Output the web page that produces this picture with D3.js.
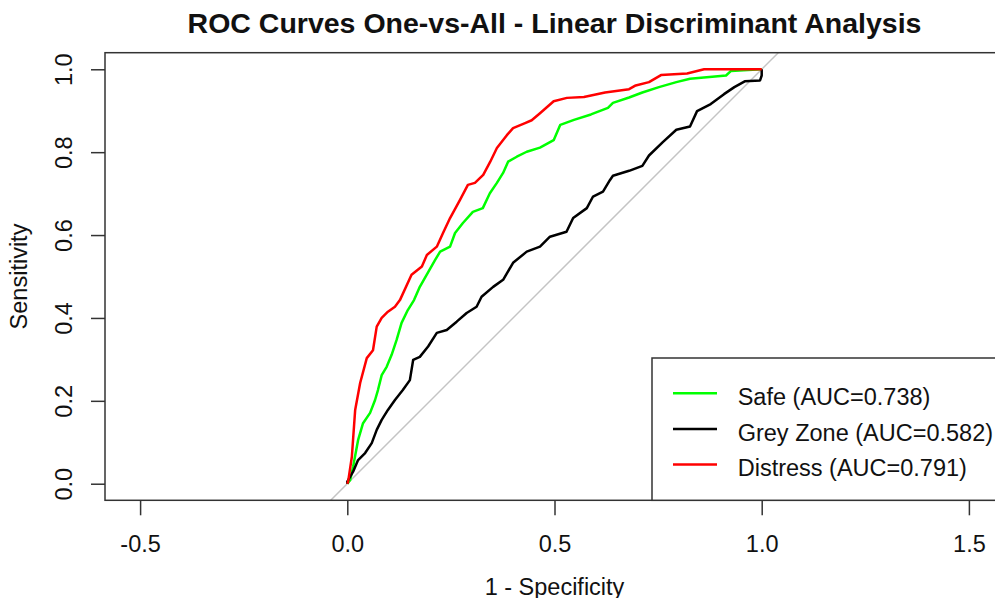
<!DOCTYPE html>
<html>
<head>
<meta charset="utf-8">
<script src="https://cdn.jsdelivr.net/npm/d3@7"></script>
<style>
  html, body { margin: 0; padding: 0; background: #fff; }
  svg { display: block; font-family: "Liberation Sans", Arial, sans-serif; }
</style>
</head>
<body>
<svg id="chart" width="995" height="598"></svg>
<script>
// ROC curves (one class against the rest) for the LDA classifier
const classNames = ["Safe", "Grey Zone", "Distress"];
const aucValues = [0.738, 0.582, 0.791];
const classColors = ["#00ff00", "#000000", "#ff0000"];

const safeFpr = [0, 0.007, 0.014, 0.026, 0.038, 0.055, 0.067, 0.074, 0.083, 0.095, 0.107, 0.119, 0.131, 0.146, 0.161, 0.175, 0.212, 0.224, 0.248, 0.260, 0.279, 0.303, 0.327, 0.344, 0.361, 0.376, 0.388, 0.409, 0.433, 0.465, 0.498, 0.514, 0.547, 0.588, 0.629, 0.641, 0.680, 0.712, 0.752, 0.794, 0.827, 0.914, 0.926, 0.967, 1];
const safeTpr = [0, 0.009, 0.041, 0.105, 0.146, 0.171, 0.202, 0.226, 0.262, 0.282, 0.311, 0.347, 0.388, 0.419, 0.443, 0.475, 0.540, 0.560, 0.572, 0.605, 0.629, 0.656, 0.665, 0.701, 0.726, 0.750, 0.777, 0.789, 0.801, 0.811, 0.829, 0.866, 0.878, 0.891, 0.907, 0.919, 0.932, 0.944, 0.957, 0.969, 0.977, 0.985, 0.996, 0.998, 1];

const greyFpr = [0, 0, 0.014, 0.026, 0.043, 0.059, 0.071, 0.083, 0.098, 0.115, 0.134, 0.151, 0.159, 0.175, 0.195, 0.216, 0.240, 0.264, 0.288, 0.312, 0.324, 0.352, 0.376, 0.400, 0.433, 0.465, 0.489, 0.529, 0.545, 0.578, 0.593, 0.617, 0.634, 0.641, 0.680, 0.712, 0.728, 0.762, 0.794, 0.827, 0.844, 0.877, 0.909, 0.934, 0.959, 0.996, 1, 1];
const greyTpr = [0, 0.005, 0.029, 0.057, 0.074, 0.098, 0.130, 0.154, 0.178, 0.202, 0.226, 0.250, 0.299, 0.306, 0.331, 0.364, 0.371, 0.391, 0.412, 0.427, 0.451, 0.475, 0.492, 0.533, 0.560, 0.572, 0.596, 0.608, 0.641, 0.665, 0.693, 0.705, 0.733, 0.743, 0.755, 0.767, 0.792, 0.825, 0.854, 0.862, 0.899, 0.916, 0.940, 0.957, 0.971, 0.973, 0.985, 1];

const distressFpr = [0, 0.002, 0.011, 0.019, 0.031, 0.047, 0.062, 0.071, 0.083, 0.098, 0.115, 0.127, 0.155, 0.180, 0.192, 0.216, 0.231, 0.248, 0.272, 0.291, 0.308, 0.328, 0.345, 0.361, 0.385, 0.400, 0.429, 0.445, 0.465, 0.498, 0.530, 0.571, 0.622, 0.680, 0.696, 0.728, 0.757, 0.820, 0.861, 1];
const distressTpr = [0, 0.005, 0.065, 0.178, 0.243, 0.303, 0.322, 0.379, 0.400, 0.415, 0.427, 0.443, 0.504, 0.524, 0.552, 0.572, 0.605, 0.641, 0.685, 0.721, 0.726, 0.745, 0.777, 0.810, 0.841, 0.858, 0.870, 0.877, 0.894, 0.923, 0.931, 0.933, 0.944, 0.952, 0.961, 0.969, 0.986, 0.990, 1, 1];

const xTicks = [-0.5, 0, 0.5, 1, 1.5];
const yTicks = [0, 0.2, 0.4, 0.6, 0.8, 1];

const curves = [
  { fpr: safeFpr, tpr: safeTpr },
  { fpr: greyFpr, tpr: greyTpr },
  { fpr: distressFpr, tpr: distressTpr }
];

// plot region (equal aspect ratio, so the x range is widened)
const box = { left: 105, right: 1004, top: 52.7, bottom: 500.3 };
const x = d3.scaleLinear().domain([-0.5847, 1.5847]).range([box.left, box.right]);
const y = d3.scaleLinear().domain([-0.04, 1.04]).range([box.bottom, box.top]);

const svg = d3.select("#chart");
const fontSize = 23.5;

svg.append("defs").append("clipPath").attr("id", "plotClip")
  .append("rect")
  .attr("x", box.left).attr("y", box.top)
  .attr("width", box.right - box.left).attr("height", box.bottom - box.top);

// chance diagonal
svg.append("line")
  .attr("clip-path", "url(#plotClip)")
  .attr("x1", x(-0.04)).attr("y1", y(-0.04))
  .attr("x2", x(1.04)).attr("y2", y(1.04))
  .attr("stroke", "#c4c4c4").attr("stroke-width", 1.5);

// ROC curves
const line = d3.line().x(d => x(d[0])).y(d => y(d[1]));
curves.forEach((c, i) => {
  const pts = c.fpr.map((f, k) => [f, c.tpr[k]]);
  svg.append("path")
    .attr("clip-path", "url(#plotClip)")
    .attr("d", line(pts))
    .attr("fill", "none")
    .attr("stroke", classColors[i])
    .attr("stroke-width", 2.5)
    .attr("stroke-linejoin", "round");
});

// plot frame
svg.append("rect")
  .attr("x", box.left).attr("y", box.top)
  .attr("width", box.right - box.left).attr("height", box.bottom - box.top)
  .attr("fill", "none").attr("stroke", "#333").attr("stroke-width", 1.5);

// x axis
const xAxis = svg.append("g")
  .attr("transform", `translate(0,${box.bottom})`)
  .call(d3.axisBottom(x).tickValues(xTicks).tickFormat(d => d.toFixed(1))
    .tickSize(15).tickPadding(20));
xAxis.select(".domain").remove();
xAxis.selectAll("line").attr("stroke", "#333").attr("stroke-width", 1.5);
xAxis.selectAll("text").attr("font-size", fontSize).attr("fill", "#111")
  .attr("font-family", "Liberation Sans, Arial, sans-serif");

// y axis with upright (rotated) tick labels
const yAxis = svg.append("g")
  .attr("transform", `translate(${box.left},0)`)
  .call(d3.axisLeft(y).tickValues(yTicks).tickFormat(d => d.toFixed(1)).tickSize(14));
yAxis.select(".domain").remove();
yAxis.selectAll("line").attr("stroke", "#333").attr("stroke-width", 1.5);
yAxis.selectAll("text")
  .attr("x", null).attr("dy", null)
  .attr("transform", "translate(-33,0) rotate(-90)")
  .attr("text-anchor", "middle")
  .attr("font-size", fontSize).attr("fill", "#111")
  .attr("font-family", "Liberation Sans, Arial, sans-serif");

// titles
svg.append("text")
  .attr("x", x(0.5)).attr("y", 33)
  .attr("text-anchor", "middle")
  .attr("font-size", 28.5).attr("font-weight", "bold").attr("fill", "#111")
  .text("ROC Curves One-vs-All - Linear Discriminant Analysis");

svg.append("text")
  .attr("x", x(0.5)).attr("y", 595)
  .attr("text-anchor", "middle")
  .attr("font-size", fontSize).attr("fill", "#111")
  .text("1 - Specificity");

svg.append("text")
  .attr("transform", `translate(27,${(box.top + box.bottom) / 2}) rotate(-90)`)
  .attr("text-anchor", "middle")
  .attr("font-size", fontSize).attr("fill", "#111")
  .text("Sensitivity");

// legend in the bottom-right corner
const legend = svg.append("g");
legend.append("rect")
  .attr("x", 652).attr("y", 358)
  .attr("width", box.right - 652).attr("height", box.bottom - 358)
  .attr("fill", "#fff").attr("stroke", "#333").attr("stroke-width", 1.5);

const rowY = [393.3, 429, 464.4];
classNames.forEach((name, i) => {
  legend.append("line")
    .attr("x1", 673).attr("x2", 717)
    .attr("y1", rowY[i]).attr("y2", rowY[i])
    .attr("stroke", classColors[i]).attr("stroke-width", 2.5);
  legend.append("text")
    .attr("x", 737.7).attr("y", rowY[i] + 11.5)
    .attr("font-size", fontSize).attr("fill", "#111")
    .text(`${name} (AUC=${aucValues[i].toFixed(3)})`);
});
</script>
</body>
</html>
